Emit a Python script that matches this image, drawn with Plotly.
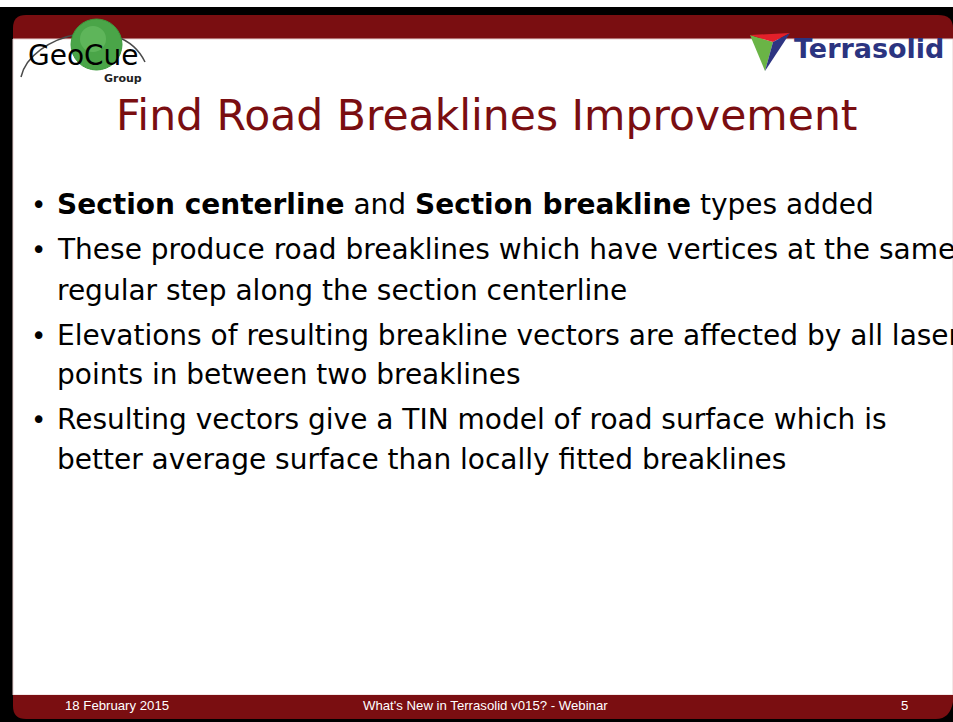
import plotly.graph_objects as go

# ---- content ----
title_text = "Find Road Breaklines Improvement"
bullet_lines = [
    ["<b>Section centerline</b> and <b>Section breakline</b> types added"],
    ["These produce road breaklines which have vertices at the same",
     "regular step along the section centerline"],
    ["Elevations of resulting breakline vectors are affected by all laser",
     "points in between two breaklines"],
    ["Resulting vectors give a TIN model of road surface which is",
     "better average surface than locally fitted breaklines"],
]
line_y = [[204], [249, 290], [335, 374], [419, 459]]
footer_left = "18 February 2015"
footer_mid = "What's New in Terrasolid v015? - Webinar"
footer_right = "5"
logo_left = "GeoCue"
logo_left_sub = "Group"
logo_right = "Terrasolid"

W, H = 953, 722
RED = "#7a0e11"

fig = go.Figure()
fig.add_trace(go.Scatter(x=[0], y=[0], mode="markers", marker=dict(opacity=0),
                         hoverinfo="skip", showlegend=False))

shapes = []
# black frame
shapes.append(dict(type="rect", x0=0, x1=W, y0=7, y1=H, fillcolor="black", line_width=0, layer="below"))
# header bar with rounded top corners
shapes.append(dict(type="path",
                   path="M 13 39 L 13 28 Q 13 15 26 15 L 938 15 Q 953 15 953 28 L 953 39 Z",
                   fillcolor=RED, line_width=0, layer="below"))
# white content area
shapes.append(dict(type="rect", x0=13, x1=W, y0=39, y1=695, fillcolor="white",
                   line=dict(color="#e6d0d0", width=1), layer="below"))
# footer bar with rounded bottom corners
shapes.append(dict(type="path",
                   path="M 13 695 L 953 695 L 953 702 Q 950 719 936 719 L 26 719 Q 13 719 13 706 Z",
                   fillcolor=RED, line_width=0, layer="below"))
# GeoCue swoosh
shapes.append(dict(type="path", path="M 21 77 C 30 35, 120 10, 145 62",
                   line=dict(color="#4a4a4a", width=1.5)))
# GeoCue green ball
shapes.append(dict(type="circle", x0=71, x1=122, y0=19, y1=70, fillcolor="#4aa548",
                   line=dict(color="#3c9a3c", width=1)))
shapes.append(dict(type="circle", x0=80, x1=106, y0=26, y1=52, fillcolor="#6cc067",
                   line_width=0, opacity=0.6))
# Terrasolid triangle
shapes.append(dict(type="path", path="M 750 35 L 773 42 L 765 71 Z", fillcolor="#6ab446", line_width=0))
shapes.append(dict(type="path", path="M 750 35 L 790 33 L 773 42 Z", fillcolor="#e3202a", line_width=0))
shapes.append(dict(type="path", path="M 790 33 L 765 71 L 773 42 Z", fillcolor="#2e3582", line_width=0))

ann = []
ann.append(dict(x=83, y=55, text=logo_left, xanchor="center", yanchor="middle", showarrow=False,
                font=dict(family="DejaVu Sans", size=28, color="black")))
ann.append(dict(x=123, y=78, text="<b>" + logo_left_sub + "</b>", xanchor="center", yanchor="middle",
                showarrow=False, font=dict(family="DejaVu Sans", size=11, color="#222")))
ann.append(dict(x=869, y=48, text="<b>" + logo_right + "</b>", xanchor="center", yanchor="middle",
                showarrow=False, font=dict(family="DejaVu Sans", size=27, color="#2b3480")))
ann.append(dict(x=487, y=115, text=title_text, xanchor="center", yanchor="middle", showarrow=False,
                font=dict(family="DejaVu Sans", size=42.5, color=RED)))

for lines, ys in zip(bullet_lines, line_y):
    ann.append(dict(x=29, y=ys[0] + 1, text="•", xanchor="left", yanchor="middle", showarrow=False,
                    font=dict(family="DejaVu Sans", size=26, color="black")))
    for t, yy in zip(lines, ys):
        ann.append(dict(x=55, y=yy, text=t, xanchor="left", yanchor="middle", showarrow=False,
                        font=dict(family="DejaVu Sans", size=28, color="black")))

ann.append(dict(x=63, y=705, text=footer_left, xanchor="left", yanchor="middle", showarrow=False,
                font=dict(family="Liberation Sans", size=13.2, color="white")))
ann.append(dict(x=485, y=705, text=footer_mid, xanchor="center", yanchor="middle", showarrow=False,
                font=dict(family="Liberation Sans", size=13.2, color="white")))
ann.append(dict(x=904, y=705, text=footer_right, xanchor="center", yanchor="middle", showarrow=False,
                font=dict(family="Liberation Sans", size=13.2, color="white")))

fig.update_layout(
    width=W, height=H, margin=dict(l=0, r=0, t=0, b=0),
    paper_bgcolor="white", plot_bgcolor="white",
    xaxis=dict(range=[0, W], visible=False, fixedrange=True),
    yaxis=dict(range=[H, 0], visible=False, fixedrange=True),
    shapes=shapes, annotations=ann, showlegend=False,
)
fig.write_html("out.html", config={"displayModeBar": False},
               post_script="document.body.style.margin='0';document.body.style.overflow='hidden';")
